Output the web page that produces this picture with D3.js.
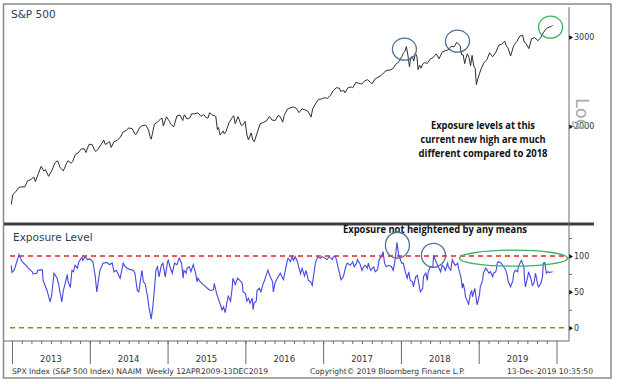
<!DOCTYPE html>
<html>
<head>
<meta charset="utf-8">
<script src="https://cdn.jsdelivr.net/npm/d3@7"></script>
<style>
body { margin: 0; background: #fff; }
text { font-family: "DejaVu Sans", Tahoma, sans-serif; }
.note { font-family: "Open Sans", "Liberation Sans", sans-serif; font-weight: bold; fill: #111; }
.axis path.domain { display: none; }
.axis line { stroke: #6b6b6b; }
</style>
</head>
<body>
<svg id="chart" width="617" height="384"></svg>
<script>
// S&P 500 weekly closes (decimal year, close)
var spx = [
	[2012.99,1402],[2013.01,1466],[2013.05,1486],[2013.085,1513],[2013.125,1519],[2013.165,1518],[2013.20,1561],[2013.24,1569],
	[2013.28,1588],[2013.30,1555],[2013.34,1614],[2013.375,1667],[2013.41,1631],[2013.43,1643],[2013.47,1593],[2013.51,1632],
	[2013.55,1692],[2013.585,1710],[2013.62,1656],[2013.66,1633],[2013.70,1688],[2013.72,1710],[2013.76,1691],[2013.78,1703],
	[2013.815,1760],[2013.85,1771],[2013.89,1804],[2013.93,1805],[2013.95,1775],[2013.99,1842],
	[2014.03,1842],[2014.065,1790],[2014.08,1783],[2014.10,1797],[2014.14,1836],[2014.18,1878],[2014.20,1841],[2014.24,1858],
	[2014.255,1865],[2014.275,1816],[2014.31,1863],[2014.355,1878],[2014.39,1900],[2014.43,1949],[2014.47,1963],[2014.50,1985],
	[2014.545,1978],[2014.585,1925],[2014.60,1931],[2014.64,1988],[2014.68,2007],[2014.72,2010],[2014.755,1967],[2014.775,1906],
	[2014.79,1886],[2014.83,2018],[2014.87,2039],[2014.91,2067],[2014.93,2075],[2014.945,2002],[2014.985,2088],
	[2015.025,2044],[2015.04,2019],[2015.08,1995],[2015.12,2097],[2015.16,2104],[2015.195,2053],[2015.215,2108],[2015.25,2067],
	[2015.29,2081],[2015.31,2117],[2015.35,2116],[2015.39,2126],[2015.43,2092],[2015.465,2110],[2015.50,2077],[2015.52,2077],
	[2015.54,2127],[2015.58,2104],[2015.62,2092],[2015.64,1971],[2015.655,1989],[2015.675,1921],[2015.715,1958],[2015.73,1931],
	[2015.75,1951],[2015.79,2033],[2015.83,2079],[2015.85,2099],[2015.87,2023],[2015.905,2090],[2015.945,2012],[2015.96,2006],
	[2015.997,2044],[2016.02,1922],[2016.04,1880],[2016.055,1907],[2016.075,1940],[2016.095,1880],[2016.115,1865],[2016.155,1948],
	[2016.19,2022],[2016.23,2035],[2016.27,2048],[2016.31,2092],[2016.345,2057],[2016.385,2053],[2016.42,2099],[2016.44,2096],
	[2016.46,2071],[2016.48,2037],[2016.50,2103],[2016.54,2162],[2016.575,2174],[2016.615,2184],[2016.655,2169],[2016.69,2128],
	[2016.73,2165],[2016.77,2153],[2016.805,2141],[2016.845,2085],[2016.865,2164],[2016.90,2213],[2016.94,2260],[2016.98,2264],
	[2017.015,2277],[2017.055,2271],[2017.09,2297],[2017.13,2351],[2017.17,2383],[2017.21,2378],[2017.225,2344],[2017.265,2355],
	[2017.28,2329],[2017.32,2384],[2017.36,2391],[2017.38,2382],[2017.42,2439],[2017.455,2433],[2017.495,2423],[2017.535,2459],
	[2017.57,2472],[2017.61,2441],[2017.63,2426],[2017.665,2477],[2017.705,2500],[2017.745,2519],[2017.78,2553],[2017.82,2581],
	[2017.86,2582],[2017.90,2602],[2017.935,2652],[2017.975,2684],
	[2018.01,2743],[2018.03,2786],[2018.05,2810],[2018.07,2873],[2018.09,2762],[2018.11,2620],[2018.125,2732],[2018.145,2747],
	[2018.165,2691],[2018.185,2786],[2018.205,2752],[2018.22,2588],[2018.24,2641],[2018.26,2604],[2018.28,2656],[2018.30,2670],
	[2018.34,2663],[2018.375,2713],[2018.415,2735],[2018.455,2780],[2018.49,2718],[2018.53,2801],[2018.57,2819],[2018.61,2833],
	[2018.645,2875],[2018.685,2872],[2018.72,2930],[2018.76,2886],[2018.78,2767],[2018.80,2768],[2018.82,2659],[2018.835,2723],
	[2018.855,2781],[2018.875,2736],[2018.895,2633],[2018.915,2760],[2018.935,2633],[2018.955,2600],[2018.97,2417],[2018.99,2486],
	[2019.03,2596],[2019.065,2665],[2019.105,2708],[2019.14,2793],[2019.18,2743],[2019.22,2801],[2019.26,2893],[2019.295,2905],
	[2019.335,2946],[2019.355,2881],[2019.375,2860],[2019.41,2752],[2019.45,2887],[2019.49,2942],[2019.53,3014],[2019.565,3026],
	[2019.585,2932],[2019.605,2919],[2019.645,2847],[2019.68,2979],[2019.72,2992],[2019.76,2952],[2019.795,2986],[2019.835,3067],
	[2019.87,3120],[2019.91,3141],[2019.93,3146],[2019.95,3169]
];

// NAAIM exposure index (decimal year, level)
var naaim = [
	[2012.99,87],[2013.00,77],[2013.03,81],[2013.09,102],[2013.13,92],[2013.17,88],[2013.21,83],[2013.26,78],[2013.27,75],
	[2013.32,76],[2013.33,80],[2013.39,81],[2013.40,66],[2013.45,52],[2013.49,36],[2013.51,45],[2013.54,76],[2013.58,69],
	[2013.60,60],[2013.64,36],[2013.66,52],[2013.68,60],[2013.71,74],[2013.72,65],[2013.75,56],[2013.77,80],[2013.79,78],
	[2013.81,87],[2013.84,83],[2013.86,92],[2013.90,98],[2013.91,94],[2013.94,99],[2013.97,95],
	[2014.00,96],[2014.04,92],[2014.07,72],[2014.09,50],[2014.13,80],[2014.17,90],[2014.22,91],[2014.25,88],[2014.29,90],
	[2014.31,78],[2014.34,80],[2014.36,76],[2014.39,69],[2014.43,90],[2014.45,86],[2014.48,83],[2014.52,81],[2014.56,80],
	[2014.58,76],[2014.61,52],[2014.63,50],[2014.67,80],[2014.69,64],[2014.71,62],[2014.74,45],[2014.76,29],[2014.79,12],
	[2014.81,29],[2014.83,52],[2014.85,80],[2014.87,85],[2014.89,71],[2014.92,87],[2014.94,90],[2014.97,71],
	[2015.00,92],[2015.01,94],[2015.03,85],[2015.06,76],[2015.09,90],[2015.12,88],[2015.15,97],[2015.18,90],[2015.20,69],
	[2015.21,80],[2015.24,76],[2015.25,83],[2015.28,85],[2015.30,78],[2015.33,88],[2015.36,76],[2015.38,64],[2015.39,69],
	[2015.42,64],[2015.46,60],[2015.51,55],[2015.55,52],[2015.59,53],[2015.60,62],[2015.63,48],[2015.65,41],[2015.68,32],
	[2015.70,25],[2015.72,29],[2015.74,21],[2015.77,39],[2015.78,44],[2015.81,37],[2015.83,55],[2015.84,69],[2015.87,60],
	[2015.90,69],[2015.92,67],[2015.96,62],[2015.97,50],
	[2016.00,48],[2016.02,37],[2016.04,41],[2016.06,34],[2016.09,41],[2016.10,25],[2016.11,34],[2016.14,37],[2016.15,52],
	[2016.18,55],[2016.20,50],[2016.23,62],[2016.24,64],[2016.27,74],[2016.29,80],[2016.32,71],[2016.35,64],[2016.36,50],
	[2016.38,62],[2016.41,69],[2016.45,76],[2016.47,71],[2016.49,67],[2016.51,78],[2016.54,94],[2016.55,97],[2016.58,92],
	[2016.60,99],[2016.62,94],[2016.64,99],[2016.67,92],[2016.68,87],[2016.71,75],[2016.73,83],[2016.76,72],[2016.78,80],
	[2016.81,66],[2016.84,64],[2016.86,59],[2016.90,90],[2016.93,99],[2016.96,97],[2016.99,99],
	[2017.02,97],[2017.05,95],[2017.08,99],[2017.12,95],[2017.13,99],[2017.16,99],[2017.18,90],[2017.21,76],[2017.23,67],
	[2017.26,71],[2017.29,85],[2017.31,90],[2017.35,87],[2017.38,92],[2017.40,85],[2017.43,90],[2017.44,95],[2017.47,90],
	[2017.50,80],[2017.52,85],[2017.54,87],[2017.57,83],[2017.58,90],[2017.61,80],[2017.65,85],[2017.67,78],[2017.70,81],
	[2017.72,95],[2017.75,99],[2017.77,106],[2017.79,90],[2017.81,85],[2017.84,87],[2017.88,85],[2017.90,80],[2017.92,90],
	[2017.95,119],[2017.97,101],[2017.98,99],
	[2018.01,90],[2018.03,90],[2018.06,76],[2018.08,69],[2018.10,78],[2018.12,66],[2018.15,64],[2018.16,57],[2018.19,71],
	[2018.21,73],[2018.23,62],[2018.25,50],[2018.28,55],[2018.29,71],[2018.32,76],[2018.34,66],[2018.35,78],[2018.38,85],
	[2018.41,84],[2018.42,101],[2018.44,95],[2018.47,87],[2018.48,85],[2018.51,78],[2018.53,87],[2018.55,85],[2018.57,80],
	[2018.60,90],[2018.61,85],[2018.64,80],[2018.66,95],[2018.68,90],[2018.70,87],[2018.73,90],[2018.74,83],[2018.77,71],
	[2018.79,55],[2018.80,62],[2018.82,52],[2018.83,43],[2018.86,36],[2018.87,32],[2018.89,46],[2018.91,52],[2018.92,43],
	[2018.95,55],[2018.97,39],[2018.98,32],
	[2019.01,46],[2019.02,57],[2019.05,66],[2019.06,76],[2019.09,83],[2019.11,80],[2019.13,76],[2019.15,78],[2019.18,71],
	[2019.19,76],[2019.22,78],[2019.24,90],[2019.25,92],[2019.28,91],[2019.31,87],[2019.35,80],[2019.37,71],[2019.38,64],
	[2019.41,57],[2019.44,66],[2019.45,76],[2019.47,80],[2019.50,78],[2019.51,85],[2019.54,92],[2019.55,94],[2019.58,85],
	[2019.59,66],[2019.60,57],[2019.63,71],[2019.64,78],[2019.67,69],[2019.69,59],[2019.71,62],[2019.73,76],[2019.76,59],
	[2019.77,57],[2019.80,62],[2019.82,71],[2019.83,90],[2019.85,91],[2019.87,76],[2019.89,78],[2019.91,77],[2019.95,78]
];

var yearTicks = [2013, 2014, 2015, 2016, 2017, 2018, 2019, 2020];
var yearLabels = ["2013", "2014", "2015", "2016", "2017", "2018", "2019"];
var priceTicks = [2000, 3000];
var levelTicks = [0, 50, 100];
var levelMinor = [25, 75, 125];
var levelGuides = [{value: 100, color: "#e8231f"}, {value: 0, color: "#6f9a22"}];

// circled spots: [year, value, colour, rx, ry]
var priceRings = [[2018.045, 2840, "#4f7394", 12, 11], [2018.727, 2945, "#4f7394", 12, 11], [2019.924, 3139, "#3cb062", 12, 11]];
var levelRings = [[2017.955, 115, "#4f7394", 12, 13], [2018.418, 101, "#4f7394", 12, 12], [2019.448, 97, "#3cb062", 54, 8]];

var noteLines = [
	{t: "Exposure levels at this", w: 104},
	{t: "current new high are much", w: 125},
	{t: "different compared to 2018", w: 129}
];

var svg = d3.select("#chart");
var axisX = 569;

var x = d3.scaleLinear().domain([2013, 2020]).range([12, 556.5]);
var yPrice = d3.scaleLog().domain([1300, 3440]).range([221, 7]);
var yLevel = d3.scaleLinear().domain([-18.5, 144.6]).range([341, 224]);

svg.append("rect").attr("width", 617).attr("height", 384).attr("fill", "#fff");

// outer frame
svg.append("rect")
	.attr("x", 3.5).attr("y", 4)
	.attr("width", 607.5).attr("height", 374)
	.attr("fill", "none").attr("stroke", "#8a8a8a").attr("stroke-width", 1.5);

svg.append("defs").append("clipPath").attr("id", "clipTop")
	.append("rect").attr("x", 4).attr("y", 7).attr("width", axisX - 4).attr("height", 214);

// ---- top panel
svg.append("text")
	.attr("x", 11).attr("y", 18)
	.attr("font-size", 10.5).attr("fill", "#1f3b64")
	.text("S&P 500");

var priceLine = d3.line()
	.x(function(d) { return x(d[0]); })
	.y(function(d) { return yPrice(d[1]); });

svg.append("path")
	.datum(spx)
	.attr("clip-path", "url(#clipTop)")
	.attr("d", priceLine)
	.attr("fill", "none").attr("stroke", "#2e2e2e").attr("stroke-width", 1);

var priceAxis = svg.append("g")
	.attr("class", "axis")
	.attr("transform", "translate(" + axisX + ",0)")
	.call(d3.axisRight(yPrice).tickValues(priceTicks).tickFormat(d3.format("d")).tickSize(0).tickPadding(5));

priceAxis.selectAll(".tick text").attr("font-size", 8).attr("fill", "#333").attr("font-family", "DejaVu Sans");
priceAxis.selectAll(".tick").append("path").attr("d", "M0,-2.5L4,0L0,2.5Z").attr("fill", "#111");

svg.append("text")
	.attr("transform", "translate(576,114) rotate(90)")
	.attr("text-anchor", "middle")
	.attr("font-family", "Liberation Sans")
	.attr("font-size", 18).attr("fill", "#ababab")
	.text("Log");

svg.selectAll("text.noteline")
	.data(noteLines)
	.enter()
	.append("text")
		.attr("class", "note noteline")
		.attr("x", function(d) { return 483 - d.w / 2; })
		.attr("y", function(d, i) { return 128.5 + i * 14; })
		.attr("font-size", 10.5)
		.attr("textLength", function(d) { return d.w; })
		.attr("lengthAdjust", "spacingAndGlyphs")
		.text(function(d) { return d.t; });

priceRings.forEach(function(r) {
	svg.append("ellipse")
		.attr("cx", x(r[0])).attr("cy", yPrice(r[1]))
		.attr("rx", r[3]).attr("ry", r[4])
		.attr("fill", "none").attr("stroke", r[2]).attr("stroke-width", 1.3);
});

// ---- separator
svg.append("line")
	.attr("x1", 4).attr("x2", 594).attr("y1", 224).attr("y2", 224)
	.attr("stroke", "#3d3d3d").attr("stroke-width", 3);

// ---- bottom panel
svg.append("text")
	.attr("x", 13).attr("y", 240.5)
	.attr("font-size", 10.5).attr("fill", "#2e3e52")
	.text("Exposure Level");

svg.selectAll("line.guide")
	.data(levelGuides)
	.enter()
	.append("line")
		.attr("class", "guide")
		.attr("x1", 10).attr("x2", axisX - 2)
		.attr("y1", function(d) { return yLevel(d.value); })
		.attr("y2", function(d) { return yLevel(d.value); })
		.attr("stroke", function(d) { return d.color; })
		.attr("stroke-width", 1.5)
		.attr("stroke-dasharray", "5,4");

var levelLine = d3.line()
	.x(function(d) { return x(d[0]); })
	.y(function(d) { return yLevel(d[1]); });

svg.append("path")
	.datum(naaim)
	.attr("d", levelLine)
	.attr("fill", "none").attr("stroke", "#4646e2").attr("stroke-width", 1.1);

svg.append("text")
	.attr("class", "note")
	.attr("x", 343).attr("y", 233)
	.attr("font-size", 10.5)
	.attr("textLength", 184)
	.attr("lengthAdjust", "spacingAndGlyphs")
	.text("Exposure not heightened by any means");

levelRings.forEach(function(r) {
	svg.append("ellipse")
		.attr("cx", x(r[0])).attr("cy", yLevel(r[1]))
		.attr("rx", r[3]).attr("ry", r[4])
		.attr("fill", "none").attr("stroke", r[2]).attr("stroke-width", 1.3);
});

var levelAxis = svg.append("g")
	.attr("class", "axis")
	.attr("transform", "translate(" + axisX + ",0)")
	.call(d3.axisRight(yLevel).tickValues(levelTicks).tickSize(0).tickPadding(5));

levelAxis.selectAll(".tick text").attr("font-size", 8).attr("fill", "#333").attr("font-family", "DejaVu Sans");
levelAxis.selectAll(".tick").append("path").attr("d", "M0,-2.5L4,0L0,2.5Z").attr("fill", "#111");

svg.append("g")
	.attr("class", "axis")
	.attr("transform", "translate(" + axisX + ",0)")
	.call(d3.axisRight(yLevel).tickValues(levelMinor).tickSize(3).tickFormat(""));

// right axis line
svg.append("line")
	.attr("x1", axisX).attr("x2", axisX).attr("y1", 7).attr("y2", 341)
	.attr("stroke", "#6b6b6b").attr("stroke-width", 1);

// ---- time axis
svg.append("line")
	.attr("x1", 4).attr("x2", axisX).attr("y1", 341).attr("y2", 341)
	.attr("stroke", "#6b6b6b").attr("stroke-width", 1);

svg.append("g")
	.attr("class", "axis")
	.attr("transform", "translate(0,341)")
	.call(d3.axisBottom(x).tickValues(yearTicks).tickSize(23).tickFormat(""));

svg.append("g")
	.attr("class", "axis")
	.attr("transform", "translate(0,341)")
	.call(d3.axisBottom(x).tickValues(d3.range(2013, 2020, 0.125)).tickSize(3).tickFormat(""));

svg.selectAll("text.year")
	.data(yearLabels)
	.enter()
	.append("text")
		.attr("class", "year")
		.attr("x", function(d) { return x(+d + 0.5); })
		.attr("y", 362)
		.attr("text-anchor", "middle")
		.attr("font-size", 8.5).attr("fill", "#333")
		.text(function(d) { return d; });

var footer = [
	{x: 12, w: 256, t: "SPX Index (S&P 500 Index) NAAIM  Weekly 12APR2009-13DEC2019"},
	{x: 310, w: 155, t: "Copyright\u00a9 2019 Bloomberg Finance L.P."},
	{x: 507, w: 86, t: "13-Dec-2019 10:35:50"}
];

svg.selectAll("text.foot")
	.data(footer)
	.enter()
	.append("text")
		.attr("class", "foot")
		.attr("x", function(d) { return d.x; })
		.attr("y", 373.5)
		.attr("font-size", 7.8).attr("fill", "#333")
		.attr("textLength", function(d) { return d.w; })
		.attr("lengthAdjust", "spacingAndGlyphs")
		.attr("xml:space", "preserve")
		.text(function(d) { return d.t; });
</script>
</body>
</html>
